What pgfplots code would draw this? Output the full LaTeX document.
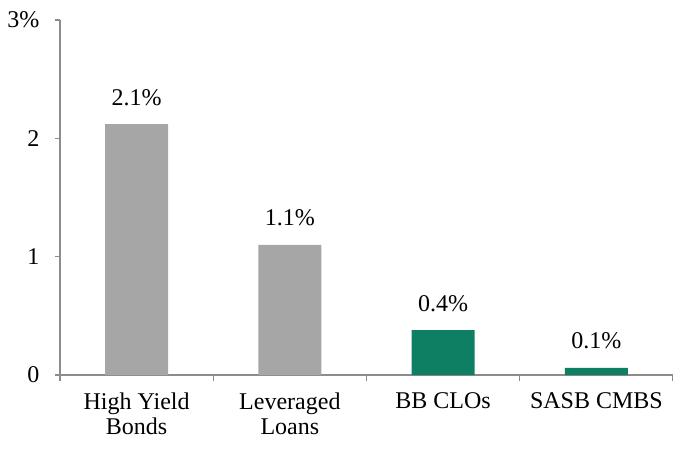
\documentclass[border=0pt]{standalone}
\usepackage{fontspec}
\setmainfont{Liberation Serif}
\usepackage{pgfplots}
\pgfplotsset{compat=1.18}
\definecolor{barGray}{HTML}{A6A6A6}
\definecolor{barGreen}{HTML}{0E7F62}
\definecolor{axGray}{HTML}{8C8C8C}
\begin{document}
\begin{tikzpicture}
\begin{axis}[
  at={(0,0)}, anchor=south west,
  scale only axis,
  width=613pt, height=355pt,
  xmin=-0.5, xmax=3.5,
  ymin=0, ymax=3,
  axis x line*=bottom,
  axis y line*=left,
  axis line style={axGray, line width=1.2pt},
  xtick={0,1,2,3},
  xticklabels={High Yield\\Bonds, Leveraged\\Loans, BB CLOs, SASB CMBS},
  minor xtick={-0.5,0.5,1.5,2.5,3.5},
  ytick={0,1,2,3},
  yticklabels={0,1,2,3\%},
  tick align=outside,
  major tick length=5pt,
  minor tick length=6pt,
  x tick style={draw=none},
  minor x tick style={draw=axGray, line width=1.2pt},
  y tick style={draw=axGray, line width=1.2pt},
  tick label style={font=\fontsize{24}{25}\selectfont},
  xticklabel style={align=center, yshift=-9pt},
  yticklabel style={xshift=-12pt},
  /pgf/number format/assume math mode=true,
  ybar, bar width=63pt,
  nodes near coords,
  point meta=explicit symbolic,
  nodes near coords style={font=\fontsize{24}{25}\selectfont, anchor=base, yshift=19pt, black},
  clip=false,
]
\addplot[bar shift=0pt, fill=barGray, draw=none] coordinates {(0,2.12) [2.1\%] (1,1.10) [1.1\%]};
\addplot[bar shift=0pt, fill=barGreen, draw=none] coordinates {(2,0.38) [0.4\%] (3,0.06) [0.1\%]};
\end{axis}
\pgfresetboundingbox
\path[use as bounding box] (-60pt,-73pt) rectangle (613pt,375pt);
\end{tikzpicture}
\end{document}
